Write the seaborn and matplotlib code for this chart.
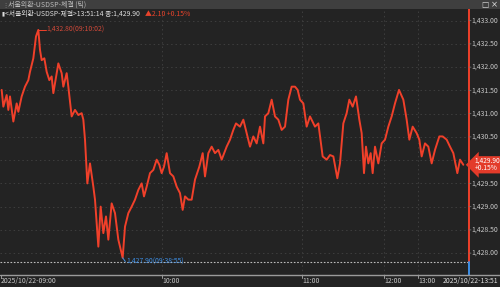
import matplotlib
matplotlib.use("Agg")
import matplotlib.pyplot as plt
import seaborn as sns
import pandas as pd
from matplotlib.lines import Line2D

# ---- data: tick sequence position and traded price ----
tick_pos = [5, 10, 20, 25, 30, 40, 50, 55, 65, 75,
            85, 90, 100, 108, 115, 120, 125, 133, 140, 148,
            155, 160, 165, 175, 185, 190, 200, 205, 215, 225,
            235, 245, 250, 255, 262, 270, 280, 285, 295, 302,
            310, 318, 325, 335, 345, 355, 368, 375, 385, 395,
            405, 415, 425, 432, 440, 450, 460, 470, 478, 485,
            492, 500, 510, 520, 530, 540, 548, 555, 565, 575,
            585, 598, 608, 615, 625, 635, 645, 655, 665, 680,
            690, 700, 708, 720, 730, 740, 750, 760, 770, 780,
            790, 795, 805, 815, 825, 835, 845, 855, 865, 875,
            885, 893, 900, 910, 920, 930, 945, 955, 968, 980,
            990, 1000, 1012, 1020, 1030, 1040, 1048, 1058, 1068, 1078,
            1085, 1092, 1098, 1105, 1112, 1118, 1125, 1135, 1145, 1155,
            1165, 1175, 1185, 1197, 1210, 1220, 1228, 1238, 1250, 1258,
            1265, 1275, 1285, 1295, 1305, 1318, 1328, 1340, 1350, 1360,
            1372, 1380, 1390]
price = [1431.51, 1431.15, 1431.40, 1431.08, 1431.37, 1430.83, 1431.22, 1431.04, 1431.37, 1431.58,
         1431.72, 1431.90, 1432.19, 1432.66, 1432.80, 1432.37, 1432.15, 1432.19, 1431.90, 1431.72,
         1431.80, 1431.44, 1431.65, 1432.08, 1431.87, 1431.58, 1431.87, 1431.58, 1430.94, 1431.08,
         1430.97, 1431.01, 1430.87, 1430.44, 1429.50, 1429.93, 1429.43, 1429.15, 1428.14, 1429.00,
         1428.43, 1428.79, 1428.29, 1429.07, 1428.86, 1428.29, 1427.90, 1428.57, 1428.86, 1429.00,
         1429.15, 1429.36, 1429.50, 1429.22, 1429.43, 1429.72, 1429.79, 1430.01, 1429.90, 1429.72,
         1429.86, 1430.15, 1429.72, 1429.65, 1429.43, 1429.29, 1428.93, 1429.22, 1429.15, 1429.15,
         1429.58, 1429.86, 1430.15, 1429.65, 1430.15, 1430.29, 1430.15, 1430.22, 1430.01, 1430.29,
         1430.44, 1430.65, 1430.79, 1430.72, 1430.87, 1430.58, 1430.29, 1430.51, 1430.36, 1430.72,
         1430.36, 1430.94, 1431.01, 1431.30, 1430.94, 1430.87, 1430.65, 1430.72, 1431.30, 1431.58,
         1431.58, 1431.51, 1431.30, 1431.22, 1430.72, 1430.94, 1430.72, 1430.79, 1430.08, 1430.01,
         1430.11, 1430.08, 1429.61, 1429.93, 1430.79, 1431.01, 1431.30, 1431.15, 1431.37, 1430.87,
         1430.58, 1429.72, 1430.29, 1429.93, 1430.15, 1429.72, 1430.29, 1429.93, 1430.36, 1430.44,
         1430.72, 1430.94, 1431.22, 1431.51, 1431.30, 1430.87, 1430.44, 1430.72, 1430.58, 1430.44,
         1430.08, 1430.36, 1430.29, 1429.93, 1430.22, 1430.51, 1430.51, 1430.44, 1430.29, 1430.15,
         1429.72, 1430.01, 1429.90]

grid_levels = [1428.0, 1428.5, 1429.0, 1429.5, 1430.0, 1430.5, 1431.0, 1431.5, 1432.0, 1432.5, 1433.0]
label_levels = [1428.0, 1428.5, 1429.0, 1429.5, 1430.5, 1431.0, 1431.5, 1432.0, 1432.5, 1433.0]
time_tick_pos = [487, 907, 1153, 1255]
time_tick_labels = ["10:00", "11:00", "12:00", "13:00"]
start_label = "2025/10/22-09:00"
end_label = "2025/10/22-13:51"
title_text = "서울외환-USDSP-체결 (틱)"
header_text = "<서울외환-USDSP-체결>13:51:14 종:1,429.90"
change_text = "▲2.10 +0.15%"
max_label = "1,432.80(09:10:02)"
min_label = "1,427.90(09:38:55)"
max_pos, max_val = 115, 1432.80
min_pos, min_val = 368, 1427.90
last_val = 1429.90
last_pct = "+0.15%"
low_level = 1427.80

# ---- style ----
BG = "#232323"
BAR = "#3f3f3f"
TXT = "#c9c9c9"
RED = "#f0402a"
BLUE = "#3d8fe6"
GRID = "#3e3e3e"
FS = 4.9

sns.set_style("dark")
plt.rcParams['font.family'] = ['Noto Sans CJK KR', 'DejaVu Sans']

W, H = 500, 287
XMAX = 1407  # right edge of plotting area in tick-position units
fig = plt.figure(figsize=(W / 100, H / 100), dpi=100, facecolor=BG)
ax_left, ax_right, ax_top, ax_bot = 0, 469, 9, 275
ax = fig.add_axes([ax_left / W, 1 - ax_bot / H, (ax_right - ax_left) / W, (ax_bot - ax_top) / H])
ax.set_facecolor(BG)

df = pd.DataFrame({"pos": tick_pos, "price": price})
sns.lineplot(data=df, x="pos", y="price", ax=ax, color=RED, linewidth=1.4,
             estimator=None, sort=False)

ax.set_xlim(0, XMAX)
ax.set_ylim(1427.53, 1433.25)
ax.set_xlabel("")
ax.set_ylabel("")
ax.set_xticks([])
ax.set_yticks([])
for s in ax.spines.values():
    s.set_visible(False)

# grid
for v in grid_levels:
    ax.axhline(v, color=GRID, linewidth=0.7, linestyle=(0, (1.5, 3)), zorder=0)
for p in time_tick_pos:
    ax.axvline(p, color=GRID, linewidth=0.7, linestyle=(0, (1.5, 3)), zorder=0)

# low level dotted line
ax.axhline(low_level, color="#bdbdbd", linewidth=0.8, linestyle=(0, (1.5, 1.5)), zorder=1)

# right edge line: red above low level, blue below
ylo, yhi = ax.get_ylim()
frac = (low_level - ylo) / (yhi - ylo)
ax.axvline(XMAX, ymin=frac, ymax=1, color=RED, linewidth=1.4, clip_on=False)
ax.axvline(XMAX, ymin=0, ymax=frac, color=BLUE, linewidth=1.4, clip_on=False)

# right axis labels
for v in label_levels:
    ax.annotate("", xy=(XMAX + 6, v), xytext=(XMAX, v), xycoords="data",
                arrowprops=dict(arrowstyle="-", color="#777777", lw=0.6), annotation_clip=False)
    ax.text(XMAX + 8, v, f"{v:,.2f}", color=TXT, fontsize=FS, va="center", ha="left", clip_on=False)

# current value box
ax.text(XMAX + 17, last_val, f"{last_val:,.2f}\n{last_pct}", color="white", fontsize=4.8,
        va="center", ha="left", linespacing=0.9, clip_on=False,
        bbox=dict(boxstyle="larrow,pad=0.14", facecolor="#e33b2a", edgecolor="none"))

# max / min annotations
ax.plot([max_pos, max_pos + 22], [max_val, max_val], color=RED, linewidth=0.7)
ax.text(max_pos + 25, max_val, max_label, color="#d24a3a", fontsize=FS, va="center", ha="left")
ax.plot([min_pos, min_pos + 8], [min_val, min_val - 0.08], color=BLUE, linewidth=0.7)
ax.text(min_pos + 11, min_val - 0.09, min_label, color=BLUE, fontsize=FS, va="center", ha="left")

# title bar
fig.patches.append(plt.Rectangle((0, 1 - 9 / H), 1, 9 / H, transform=fig.transFigure,
                                 facecolor=BAR, edgecolor="none"))
fig.text(2 / W, 1 - 4.7 / H, "⋮", color="#999999", fontsize=4.5, va="center", ha="left",
         family="DejaVu Sans")
fig.text(8 / W, 1 - 4.7 / H, title_text, color="#bbbbbb", fontsize=5.0, va="center", ha="left")
fig.text(485 / W, 1 - 4.5 / H, "□", color="#dddddd", fontsize=5.5, va="center", ha="center",
         family="DejaVu Sans")
fig.text(494 / W, 1 - 4.5 / H, "×", color="#dddddd", fontsize=6.0, va="center", ha="center",
         family="DejaVu Sans")

# header line
fig.text(2 / W, 1 - 13.5 / H, "▮", color="#dddddd", fontsize=4.0, va="center", ha="left",
         family="DejaVu Sans")
fig.text(5 / W, 1 - 13.5 / H, header_text, color="#dddddd", fontsize=4.95, va="center", ha="left")
fig.text(145 / W, 1 - 13.5 / H, change_text, color="#e8432b", fontsize=4.95, va="center", ha="left")

# bottom axis
fig.lines.append(Line2D([0, 1], [1 - 275 / H, 1 - 275 / H], transform=fig.transFigure,
                        color="#9a9a9a", linewidth=1.0))
for p in [3] + time_tick_pos:
    xf = p / 3 / W
    fig.lines.append(Line2D([xf, xf], [1 - 275 / H, 1 - 278 / H], transform=fig.transFigure,
                            color="#9a9a9a", linewidth=0.7))
fig.text(1 / W, 1 - 281 / H, start_label, color=TXT, fontsize=FS, va="center", ha="left")
for p, lab in zip(time_tick_pos, time_tick_labels):
    fig.text((p / 3 + 0.5) / W, 1 - 281 / H, lab, color=TXT, fontsize=FS, va="center", ha="left")
fig.text(498 / W, 1 - 281 / H, end_label, color="#e0e0e0", fontsize=FS, va="center", ha="right")

fig.savefig("out.png", dpi=100, facecolor=BG)
